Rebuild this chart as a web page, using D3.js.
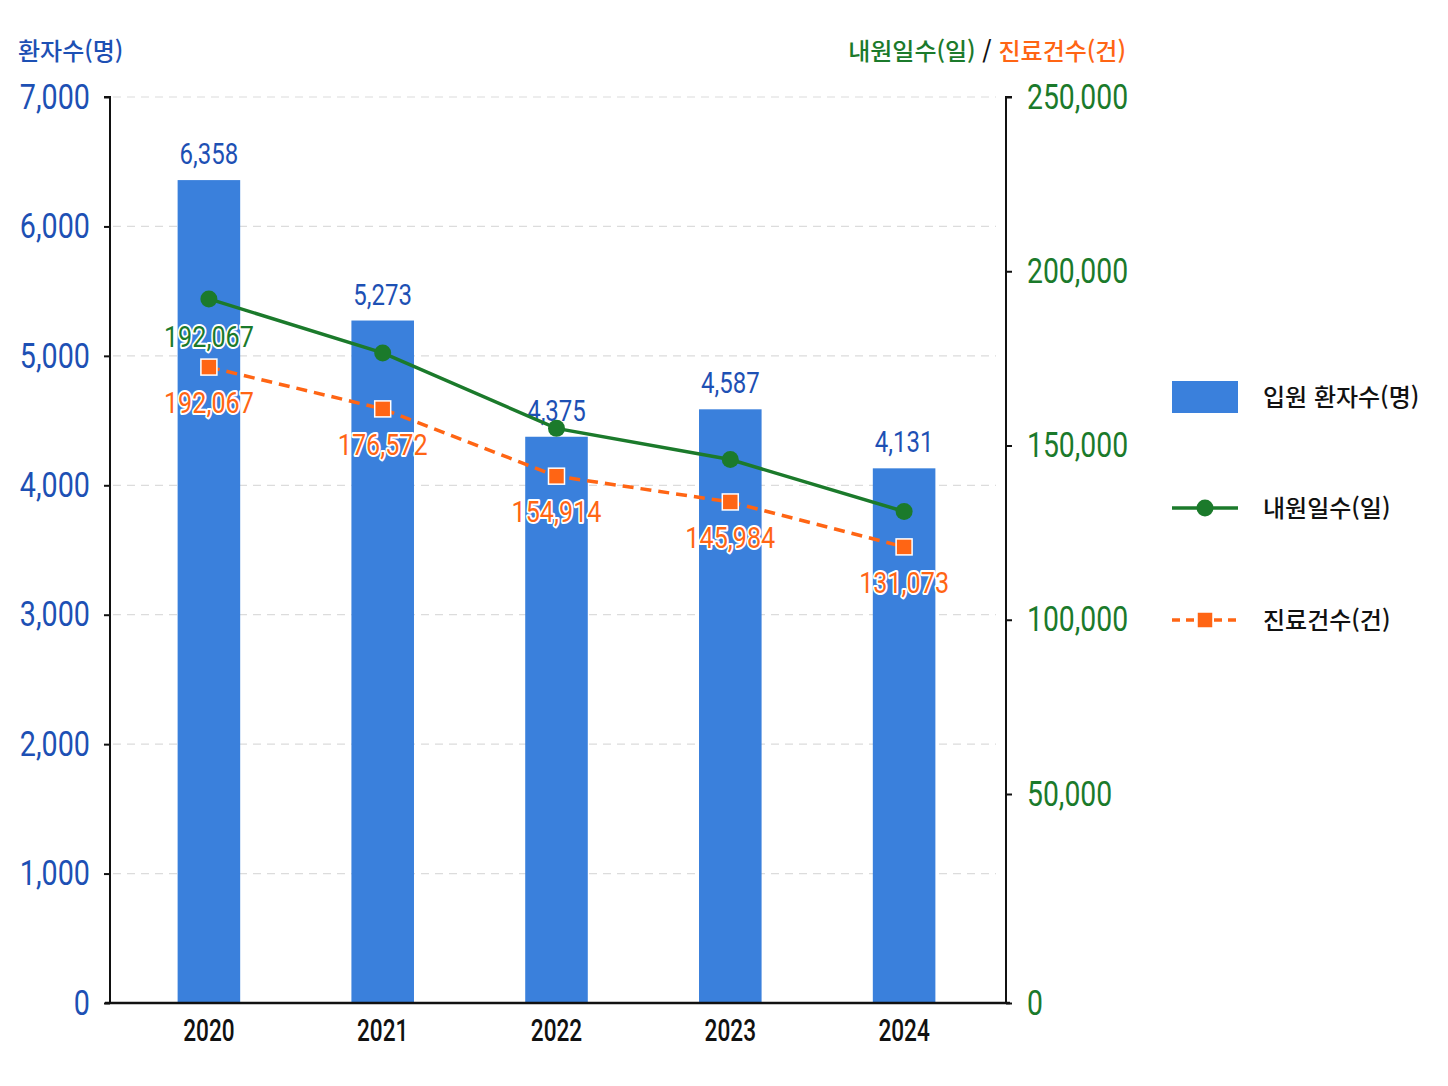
<!DOCTYPE html>
<html lang="ko">
<head>
<meta charset="utf-8">
<script src="https://cdn.jsdelivr.net/npm/d3@7"></script>
<style>
  html, body { margin: 0; padding: 0; background: #ffffff; }
  svg { display: block; }
</style>
</head>
<body>
<svg id="chart" width="1448" height="1086"></svg>
<script>
const years = ['2020', '2021', '2022', '2023', '2024'];
const inpatients = [6358, 5273, 4375, 4587, 4131];
const visitDays = [192067, 176572, 154914, 145984, 131073];
const claims = [172500, 160500, 141200, 133800, 120900];
const visitLabels = ['192,067', '', '', '', ''];
const claimLabels = ['192,067', '176,572', '154,914', '145,984', '131,073'];
const leftTicks = [0, 1000, 2000, 3000, 4000, 5000, 6000, 7000];
const rightTicks = [0, 50000, 100000, 150000, 200000, 250000];

const BLUE_BAR = '#3a80dc';
const BLUE_TEXT = '#1d50b4';
const GREEN = '#1b7a2b';
const ORANGE = '#ff6514';
const NUM_FONT = 'Roboto, "Noto Sans", sans-serif';
const KR_FONT = '"Noto Sans CJK KR", "Noto Sans", sans-serif';

const svg = d3.select('#chart');
const fmt = d3.format(',');

const x = d3.scaleBand()
    .domain(years)
    .range([122, 991])
    .paddingInner(0.64)
    .paddingOuter(0.32);
const yLeft = d3.scaleLinear().domain([0, 7000]).range([1003, 97]);
// right axis in the original is not evenly spaced below 50,000
const yRight = d3.scaleLinear().domain([0, 50000, 250000]).range([1003, 794, 97]);
const cx = d => x(d) + x.bandwidth() / 2;

// narrow numbers: squeeze Roboto horizontally around its anchor
function squeeze(sel, s) {
    sel.each(function () {
        const t = d3.select(this);
        const x0 = +t.attr('x') || 0;
        const y0 = +t.attr('y') || 0;
        t.attr('x', 0).attr('y', 0)
            .attr('transform', `translate(${x0},${y0}) scale(${s},1)`);
    });
}

// grid
svg.append('g')
    .selectAll('line')
    .data(leftTicks.filter(d => d > 0))
    .enter()
    .append('line')
    .attr('x1', 113)
    .attr('x2', 996)
    .attr('y1', d => yLeft(d))
    .attr('y2', d => yLeft(d))
    .attr('stroke', '#dcdcdc')
    .attr('stroke-width', 1.2)
    .attr('stroke-dasharray', '8,6');

// bars
svg.append('g')
    .selectAll('rect')
    .data(years)
    .enter()
    .append('rect')
    .attr('x', d => x(d))
    .attr('y', (d, i) => yLeft(inpatients[i]))
    .attr('width', x.bandwidth())
    .attr('height', (d, i) => yLeft(0) - yLeft(inpatients[i]))
    .attr('fill', BLUE_BAR);

svg.append('g')
    .selectAll('text')
    .data(years)
    .enter()
    .append('text')
    .attr('x', d => cx(d))
    .attr('y', (d, i) => yLeft(inpatients[i]) - 16)
    .attr('text-anchor', 'middle')
    .style('font-family', NUM_FONT)
    .style('font-size', '30px')
    .attr('fill', BLUE_TEXT)
    .text((d, i) => fmt(inpatients[i]))
    .call(squeeze, 0.8);

// axes
const leftAxis = svg.append('g')
    .attr('transform', 'translate(110,0)')
    .call(d3.axisLeft(yLeft).tickValues(leftTicks).tickSize(6).tickPadding(14).tickFormat(fmt));
leftAxis.select('.domain').attr('stroke', '#111').attr('stroke-width', 2).attr('d', 'M-6,97H0V1003');
leftAxis.selectAll('.tick line').attr('stroke', '#111').attr('stroke-width', 2);
leftAxis.selectAll('.tick text')
    .style('font-family', NUM_FONT)
    .style('font-size', '35px')
    .attr('fill', BLUE_TEXT)
    .call(squeeze, 0.82);

const rightAxis = svg.append('g')
    .attr('transform', 'translate(1006,0)')
    .call(d3.axisRight(yRight).tickValues(rightTicks).tickSize(6).tickPadding(15).tickFormat(fmt));
rightAxis.select('.domain').attr('stroke', '#111').attr('stroke-width', 2).attr('d', 'M6,97H0V1003');
rightAxis.selectAll('.tick line').attr('stroke', '#111').attr('stroke-width', 2);
rightAxis.selectAll('.tick text')
    .style('font-family', NUM_FONT)
    .style('font-size', '35px')
    .attr('fill', GREEN)
    .call(squeeze, 0.81);

const bottomAxis = svg.append('g')
    .attr('transform', 'translate(0,1003)')
    .call(d3.axisBottom(x).tickSize(0).tickPadding(16));
bottomAxis.select('.domain').attr('stroke', '#111').attr('stroke-width', 2.5).attr('d', 'M105,0H1010');
bottomAxis.selectAll('.tick text')
    .style('font-family', NUM_FONT)
    .style('font-size', '31px')
    .style('font-weight', 500)
    .attr('fill', '#111')
    .call(squeeze, 0.73);

// lines
const line = d3.line()
    .x(d => cx(d[0]))
    .y(d => yRight(d[1]));
const visitPts = years.map((d, i) => [d, visitDays[i]]);
const claimPts = years.map((d, i) => [d, claims[i]]);

svg.append('path')
    .datum(claimPts)
    .attr('d', line)
    .attr('fill', 'none')
    .attr('stroke', ORANGE)
    .attr('stroke-width', 3.5)
    .attr('stroke-dasharray', '11,7');

svg.append('path')
    .datum(visitPts)
    .attr('d', line)
    .attr('fill', 'none')
    .attr('stroke', GREEN)
    .attr('stroke-width', 3.5);

svg.append('g')
    .selectAll('circle')
    .data(visitPts)
    .enter()
    .append('circle')
    .attr('cx', d => cx(d[0]))
    .attr('cy', d => yRight(d[1]))
    .attr('r', 8.5)
    .attr('fill', GREEN);

svg.append('g')
    .selectAll('rect')
    .data(claimPts)
    .enter()
    .append('rect')
    .attr('x', d => cx(d[0]) - 8)
    .attr('y', d => yRight(d[1]) - 8)
    .attr('width', 16)
    .attr('height', 16)
    .attr('fill', ORANGE)
    .attr('stroke', '#fff')
    .attr('stroke-width', 1.5);

// point labels with white halo
function haloLabels(pts, labels, color, dy) {
    svg.append('g')
        .selectAll('text')
        .data(pts)
        .enter()
        .append('text')
        .attr('x', d => cx(d[0]))
        .attr('y', d => yRight(d[1]) + dy)
        .attr('text-anchor', 'middle')
        .style('font-family', NUM_FONT)
        .style('font-size', '30px')
        .attr('fill', color)
        .attr('stroke', '#fff')
        .attr('stroke-width', 4)
        .attr('paint-order', 'stroke')
        .attr('stroke-linejoin', 'round')
        .text((d, i) => labels[i])
        .call(squeeze, 0.84);
}
haloLabels(visitPts, visitLabels, GREEN, 48);
haloLabels(claimPts, claimLabels, ORANGE, 46);

// axis titles
svg.append('text')
    .attr('x', 18)
    .attr('y', 60)
    .style('font-family', KR_FONT)
    .style('font-size', '24px')
    .style('font-weight', 500)
    .attr('fill', BLUE_TEXT)
    .text('환자수(명)');

const rTitle = svg.append('text')
    .attr('x', 1126)
    .attr('y', 60)
    .attr('text-anchor', 'end')
    .style('font-family', KR_FONT)
    .style('font-size', '24px')
    .style('font-weight', 500);
rTitle.append('tspan').attr('fill', GREEN).text('내원일수(일)');
rTitle.append('tspan').attr('fill', '#111').text(' / ');
rTitle.append('tspan').attr('fill', ORANGE).text('진료건수(건)');

// legend
const legend = svg.append('g').attr('transform', 'translate(1172,0)');
legend.append('rect')
    .attr('x', 0).attr('y', 381)
    .attr('width', 66).attr('height', 32)
    .attr('fill', BLUE_BAR);
legend.append('line')
    .attr('x1', 0).attr('x2', 66)
    .attr('y1', 508).attr('y2', 508)
    .attr('stroke', GREEN).attr('stroke-width', 3.5);
legend.append('circle')
    .attr('cx', 33).attr('cy', 508).attr('r', 8.5)
    .attr('fill', GREEN);
legend.append('line')
    .attr('x1', 0).attr('x2', 66)
    .attr('y1', 620).attr('y2', 620)
    .attr('stroke', ORANGE).attr('stroke-width', 3.5)
    .attr('stroke-dasharray', '8,6');
legend.append('rect')
    .attr('x', 25).attr('y', 612)
    .attr('width', 16).attr('height', 16)
    .attr('fill', ORANGE)
    .attr('stroke', '#fff').attr('stroke-width', 1.5);

legend.selectAll('text.lbl')
    .data([['입원 환자수(명)', 397], ['내원일수(일)', 508], ['진료건수(건)', 620]])
    .enter()
    .append('text')
    .attr('class', 'lbl')
    .attr('x', 91)
    .attr('y', d => d[1] + 9)
    .style('font-family', KR_FONT)
    .style('font-size', '24px')
    .style('font-weight', 500)
    .attr('fill', '#111')
    .text(d => d[0]);
</script>
</body>
</html>
